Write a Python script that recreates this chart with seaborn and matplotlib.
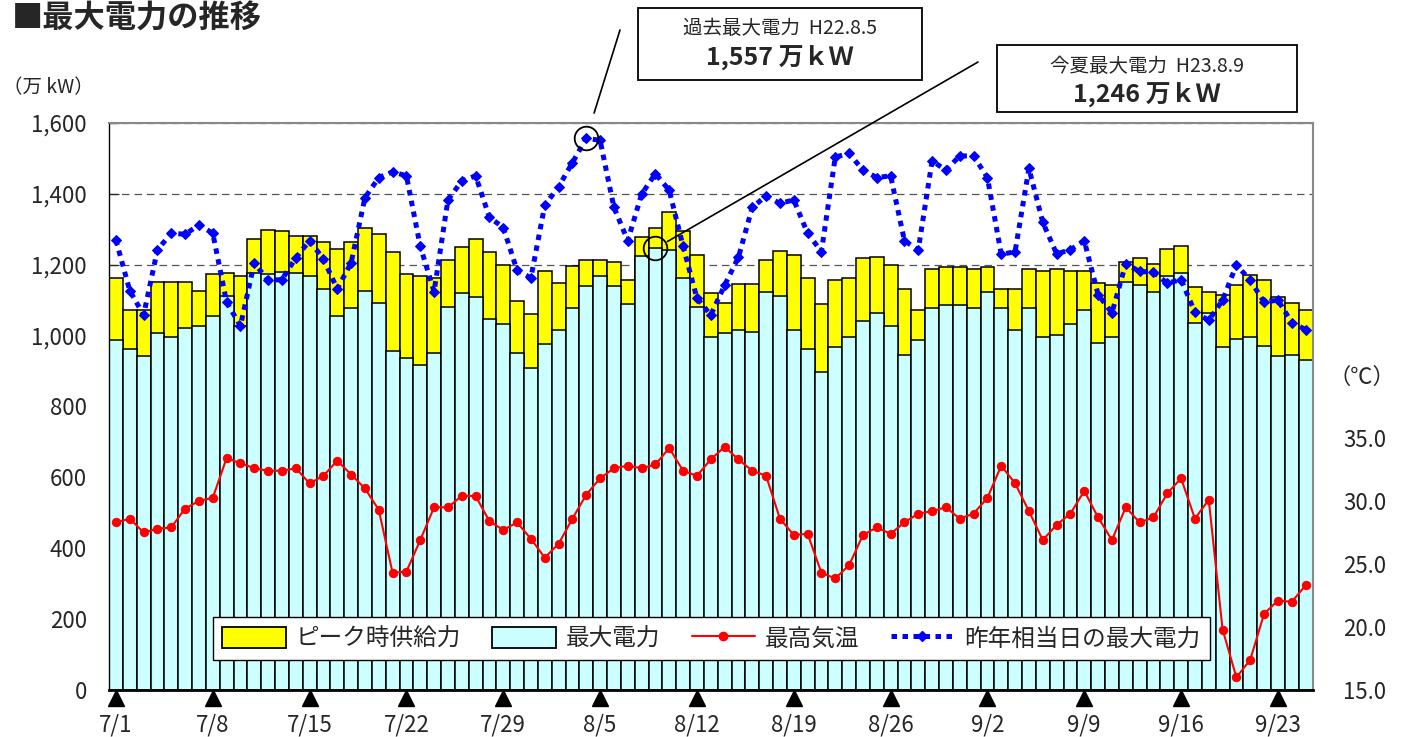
import numpy as np
import pandas as pd
import matplotlib
matplotlib.use("Agg")
import matplotlib.pyplot as plt
import seaborn as sns
from matplotlib.patches import Patch, Rectangle
from matplotlib.lines import Line2D
import matplotlib.transforms as mtransforms

# ---------------- data ----------------
dates = pd.date_range("2011-07-01", "2011-09-25", freq="D")
date_labels = [f"{d.month}/{d.day}" for d in dates]

supply = [1163, 1072, 1072, 1152, 1152, 1152, 1127, 1173, 1178, 1168,
          1273, 1298, 1294, 1282, 1280, 1263, 1244, 1263, 1303, 1288,
          1235, 1173, 1168, 1163, 1213, 1249, 1273, 1235, 1198, 1098,
          1062, 1183, 1148, 1197, 1213, 1213, 1209, 1156, 1279, 1303,
          1349, 1294, 1228, 1119, 1093, 1147, 1147, 1213, 1239, 1228,
          1163, 1088, 1157, 1163, 1218, 1223, 1198, 1132, 1072, 1187,
          1193, 1193, 1187, 1193, 1132, 1132, 1187, 1183, 1187, 1183,
          1183, 1148, 1144, 1209, 1218, 1202, 1244, 1252, 1137, 1123,
          1114, 1142, 1172, 1157, 1108, 1093, 1072]

demand = [987, 962, 942, 1006, 996, 1022, 1027, 1055, 1113, 1027,
          1176, 1174, 1179, 1177, 1167, 1132, 1055, 1077, 1127, 1093,
          957, 937, 917, 951, 1082, 1119, 1108, 1048, 1032, 951,
          910, 977, 1016, 1077, 1141, 1168, 1141, 1088, 1226, 1246,
          1242, 1163, 1082, 996, 1006, 1016, 1011, 1123, 1111, 1016,
          962, 896, 967, 996, 1042, 1064, 1026, 946, 987, 1079,
          1087, 1087, 1079, 1123, 1077, 1016, 1077, 996, 1001, 1032,
          1072, 980, 996, 1152, 1142, 1123, 1168, 1178, 1036, 1064,
          967, 990, 996, 971, 942, 946, 932]

temp = [28.3, 28.6, 27.5, 27.8, 27.9, 29.4, 30.0, 30.25, 33.4, 33.0,
        32.6, 32.4, 32.4, 32.6, 31.4, 32.0, 33.2, 32.1, 31.0, 29.3,
        24.3, 24.4, 26.9, 29.5, 29.5, 30.4, 30.4, 28.4, 27.7, 28.3,
        27.0, 25.5, 26.6, 28.6, 30.5, 31.8, 32.6, 32.8, 32.6, 32.9,
        34.2, 32.4, 32.0, 33.3, 34.3, 33.3, 32.4, 32.0, 28.6, 27.3,
        27.4, 24.3, 23.85, 24.9, 27.3, 27.9, 27.4, 28.3, 29.0, 29.2,
        29.5, 28.6, 29.0, 30.25, 32.8, 31.4, 29.2, 26.9, 28.1, 29.0,
        30.8, 28.7, 26.9, 29.5, 28.3, 28.7, 30.6, 31.8, 28.6, 30.1,
        19.8, 16.0, 17.4, 21.05, 22.1, 22.0, 23.3]

last_year = [1270, 1127, 1058, 1242, 1289, 1286, 1312, 1289, 1095, 1027,
             1205, 1156, 1158, 1219, 1268, 1216, 1132, 1205, 1389, 1446,
             1462, 1451, 1252, 1124, 1383, 1436, 1451, 1334, 1305, 1184,
             1163, 1368, 1420, 1488, 1557, 1551, 1362, 1268, 1399, 1457,
             1410, 1252, 1106, 1058, 1142, 1221, 1362, 1394, 1373, 1383,
             1289, 1237, 1504, 1514, 1467, 1446, 1451, 1268, 1242, 1493,
             1467, 1507, 1507, 1446, 1229, 1237, 1472, 1320, 1231, 1242,
             1268, 1116, 1064, 1203, 1181, 1179, 1148, 1158, 1066, 1043,
             1100, 1200, 1156, 1095, 1100, 1037, 1017]

left_ticks = [0, 200, 400, 600, 800, 1000, 1200, 1400, 1600]
right_ticks = [15, 20, 25, 30, 35]
week_idx = list(range(0, len(dates), 7))

past_max_idx = 34      # 過去最大電力 (昨年相当日)
summer_max_idx = 39    # 今夏最大電力 8/9

df = pd.DataFrame({"idx": np.arange(len(dates)), "supply": supply,
                   "demand": demand, "temp": temp, "last": last_year})

# ---------------- style ----------------
sns.set_style("white")
plt.rcParams["font.family"] = ["Noto Sans CJK JP", "DejaVu Sans"]

W, H = 1406, 737
fig = plt.figure(figsize=(W / 100, H / 100), dpi=100)
ax = fig.add_axes([109 / W, 1 - 690 / H, (1312.5 - 109) / W, (690 - 123) / H])

YELLOW = "#FFFF00"
CYAN = "#CCFFFF"
BLUE = "#0000FF"
RED = "#FF0000"

sns.barplot(data=df, x="idx", y="supply", ax=ax, color=YELLOW, saturation=1,
            width=1.0, edgecolor="black", linewidth=1.1, errorbar=None,
            native_scale=True, zorder=2)
sns.barplot(data=df, x="idx", y="demand", ax=ax, color=CYAN, saturation=1,
            width=1.0, edgecolor="black", linewidth=1.1, errorbar=None,
            native_scale=True, zorder=2)
sns.lineplot(data=df, x="idx", y="last", ax=ax, color=BLUE, linewidth=3.6,
             linestyle=(0, (1.1, 1.1)), marker="D", markersize=5,
             markeredgecolor=BLUE, zorder=4, legend=False)

ax.set_xlim(-0.5, len(dates) - 0.5)
ax.set_ylim(0, 1600)
ax.set_yticks(left_ticks)
ax.set_yticklabels([f"{v:,}" for v in left_ticks])
ax.set_axisbelow(True)
ax.yaxis.grid(True, color="#555555", linestyle=(0, (6, 4)), linewidth=0.9)
ax.xaxis.grid(False)
ax.set_xlabel("")
ax.set_ylabel("")
ax.set_xticks(week_idx)
ax.set_xticklabels([date_labels[i] for i in week_idx])
ax.tick_params(axis="x", length=0, pad=17, labelsize=16)
ax.tick_params(axis="y", direction="in", length=7, width=0.9, pad=16,
               labelsize=16, left=True)
for s in ["top", "right"]:
    ax.spines[s].set_color("#888888")
    ax.spines[s].set_linewidth(1.5)
ax.spines["left"].set_color("black")
ax.spines["left"].set_linewidth(1.0)
ax.spines["bottom"].set_color("black")
ax.spines["bottom"].set_linewidth(2.0)

# weekly triangles below axis
trans = mtransforms.blended_transform_factory(ax.transData, ax.transAxes)
ax.plot(week_idx, [-0.014] * len(week_idx), "^", color="black", ms=11,
        transform=trans, clip_on=False)

# twin axis: temperature
ax2 = ax.twinx()
sns.lineplot(data=df, x="idx", y="temp", ax=ax2, color=RED, linewidth=1.5,
             marker="o", markersize=6, markeredgecolor=RED, legend=False)
ax2.set_ylim(15, 60)
ax2.set_xlim(-0.5, len(dates) - 0.5)
ax2.set_yticks(right_ticks)
ax2.set_yticklabels([f"{v:.1f}" for v in right_ticks])
ax2.tick_params(axis="y", length=0, pad=22, labelsize=16)
ax2.set_ylabel("")
ax2.set_xlabel("")
for s in ax2.spines.values():
    s.set_visible(False)

# circles + annotation lines
ax.plot([past_max_idx], [last_year[past_max_idx]], "o", ms=17, mfc="none",
        mec="black", mew=1.3, zorder=6)
ax.plot([summer_max_idx], [demand[summer_max_idx]], "o", ms=17, mfc="none",
        mec="black", mew=1.3, zorder=6)
ax.annotate("", xy=(past_max_idx, last_year[past_max_idx]), xycoords="data",
            xytext=(620 / W, 1 - 30 / H), textcoords="figure fraction",
            arrowprops=dict(arrowstyle="-", color="black", lw=1.2,
                            shrinkA=0, shrinkB=19),
            annotation_clip=False)
ax.annotate("", xy=(summer_max_idx, demand[summer_max_idx]), xycoords="data",
            xytext=(978 / W, 1 - 62 / H), textcoords="figure fraction",
            arrowprops=dict(arrowstyle="-", color="black", lw=1.2,
                            shrinkA=0, shrinkB=10),
            annotation_clip=False, zorder=7)

# annotation boxes
def box(x0, y0, x1, y1, line1, line2):
    fig.patches.append(Rectangle((x0 / W, 1 - y1 / H), (x1 - x0) / W,
                                 (y1 - y0) / H, transform=fig.transFigure,
                                 facecolor="white", edgecolor="black", lw=1.3))
    cx = (x0 + x1) / 2 / W
    fig.text(cx, 1 - (y0 + 21) / H, line1, ha="center", va="center",
             fontsize=14)
    fig.text(cx, 1 - (y0 + 50) / H, line2, ha="center", va="center",
             fontsize=18, fontweight="bold")

box(638, 8, 922, 80, "過去最大電力  H22.8.5", f"{last_year[past_max_idx]:,} 万ｋＷ")
box(997, 45, 1297, 112, "今夏最大電力  H23.8.9", f"{demand[summer_max_idx]:,} 万ｋＷ")

# titles / units
fig.text(12 / W, 1 - 28 / H, "■最大電力の推移", ha="left", va="baseline",
         fontsize=22.5, fontweight="bold")
fig.text(48 / W, 1 - 88 / H, "（万 kW）", ha="center", va="center", fontsize=14)
fig.text(1362 / W, 1 - 377 / H, "（℃）", ha="center", va="center", fontsize=16)

# legend
handles = [Patch(facecolor=YELLOW, edgecolor="black", lw=1.3),
           Patch(facecolor=CYAN, edgecolor="black", lw=1.3),
           Line2D([], [], color=RED, lw=1.5, marker="o", ms=6),
           Line2D([], [], color=BLUE, lw=3.6, linestyle=(0, (1.1, 1.1)),
                  marker="D", ms=5)]
labels = ["ピーク時供給力", "最大電力", "最高気温", "昨年相当日の最大電力"]
leg = ax2.legend(handles, labels, loc="lower left",
                 bbox_to_anchor=((213 - 109) / 1203.5, (690 - 660) / 567),
                 borderaxespad=0, ncol=4, fontsize=17, frameon=True,
                 fancybox=False, edgecolor="black", framealpha=1,
                 handlelength=2.7, handleheight=1.0, columnspacing=1.33,
                 handletextpad=0.4, borderpad=0.4)
leg.get_frame().set_linewidth(1.0)

fig.savefig("out.png", dpi=100)
